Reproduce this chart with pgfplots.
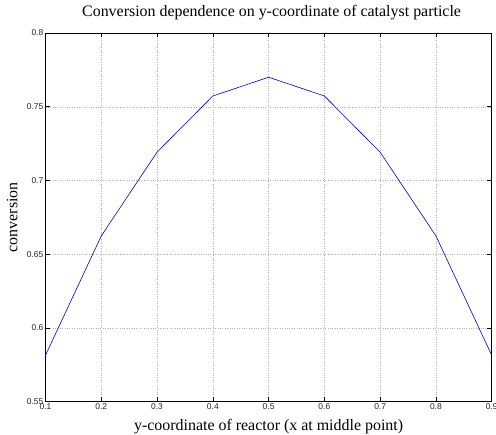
\documentclass[border=0pt]{standalone}
\usepackage{pgfplots}
\pgfplotsset{compat=1.18}
\usepackage{fontspec}
\setmainfont{Liberation Serif}
\newfontfamily\tickfont{Liberation Sans}

\begin{document}
\begin{tikzpicture}
\useasboundingbox (-45.5bp,-33.3bp) rectangle (450.5bp,401.7bp);
\begin{axis}[
    scale only axis,
    width=446.2bp, height=368.7bp,
    xmin=0.1, xmax=0.9, ymin=0.55, ymax=0.8,
    xtick={0.1,0.2,...,0.9},
    ytick={0.55,0.6,0.65,0.7,0.75,0.8},
    /pgf/number format/assume math mode=true,
    /pgf/number format/fixed,
    /pgf/number format/precision=2,
    tick label style={font=\tickfont\fontsize{8.5}{9}\selectfont, text=black!85},
    xticklabel style={inner sep=0pt, yshift=-2bp},
    yticklabel style={inner sep=0pt, xshift=-2bp},
    tick align=inside, tick pos=both,
    major tick length=4.5bp,
    every tick/.style={black, line width=0.6pt},
    axis line style={black, line width=0.8pt},
    grid=major,
    major grid style={gray!60, dotted, line width=0.45pt},
    title={Conversion dependence on y-coordinate of catalyst particle},
    title style={font=\fontsize{16}{18}\selectfont, anchor=base, at={(axis description cs:0.5,1)}, yshift=11bp, xshift=3bp},
    xlabel={y-coordinate of reactor (x at middle point)},
    xlabel style={font=\fontsize{16}{18}\selectfont, anchor=base, at={(axis description cs:0.5,0)}, yshift=-28.3bp},
    ylabel={conversion},
    every axis y label/.style={font=\fontsize{16}{18}\selectfont, at={(axis description cs:-0.0628,0.5)}, rotate=90, anchor=base},
]
\addplot[blue!75!black, line width=0.6pt] coordinates {
(0.1,0.5815) (0.2,0.6624) (0.3,0.7192) (0.4,0.7573) (0.5,0.7700)
(0.6,0.7573) (0.7,0.7192) (0.8,0.6624) (0.9,0.5815)
};
\end{axis}
\end{tikzpicture}
\end{document}
